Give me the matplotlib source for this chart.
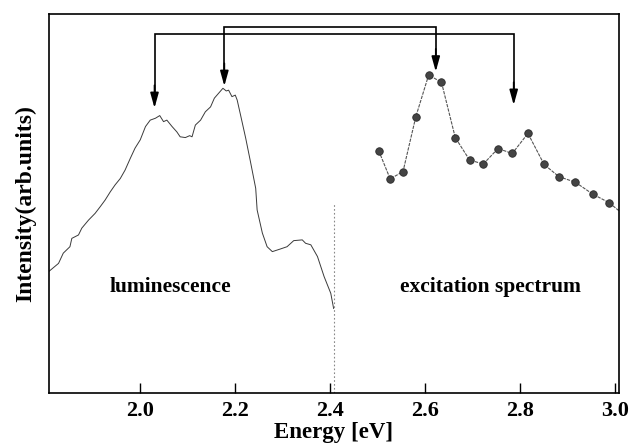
import matplotlib
matplotlib.use("Agg")
import matplotlib.pyplot as plt

plt.rcParams['font.family'] = ['Liberation Serif', 'DejaVu Serif']
plt.rcParams['font.weight'] = 'bold'

# Luminescence spectrum (energy eV, intensity arb.)
lum_E = [1.807, 1.828, 1.838, 1.852, 1.856, 1.870, 1.877, 1.891, 1.905, 1.916,
         1.926, 1.937, 1.947, 1.958, 1.968, 1.979, 1.989, 2.000, 2.011, 2.021,
         2.032, 2.041, 2.049, 2.056, 2.067, 2.077, 2.084, 2.095, 2.104, 2.109,
         2.116, 2.127, 2.137, 2.148, 2.156, 2.165, 2.174, 2.181, 2.186, 2.193,
         2.200, 2.204, 2.211, 2.222, 2.232, 2.243, 2.246, 2.257, 2.267, 2.278,
         2.295, 2.309, 2.323, 2.341, 2.348, 2.359, 2.373, 2.387, 2.401, 2.407]
lum_I = [32.0, 34.2, 36.9, 38.6, 40.8, 41.7, 43.5, 45.6, 47.4, 49.2,
         50.9, 53.1, 54.9, 56.6, 58.8, 61.9, 64.6, 66.8, 70.3, 72.0,
         72.5, 73.2, 71.6, 72.0, 70.3, 68.9, 67.6, 67.4, 67.9, 67.6,
         70.7, 72.0, 74.2, 75.5, 77.8, 79.1, 80.4, 79.7, 79.9, 78.2,
         78.6, 77.3, 73.4, 67.2, 61.0, 54.0, 48.3, 42.2, 38.6, 37.3,
         38.0, 38.6, 40.2, 40.4, 39.5, 39.1, 36.0, 30.7, 26.3, 22.3]

# Excitation spectrum
exc_E = [2.502, 2.526, 2.553, 2.580, 2.607, 2.634, 2.663, 2.693, 2.722,
         2.753, 2.783, 2.816, 2.850, 2.881, 2.916, 2.952, 2.987]
exc_I = [63.9, 56.5, 58.4, 72.9, 83.9, 82.0, 67.4, 61.5, 60.4,
         64.5, 63.2, 68.5, 60.3, 57.1, 55.6, 52.5, 50.2]
exc_tail_E = [2.987, 3.02]
exc_tail_I = [50.2, 46.8]

# Separator (end of luminescence measurement)
sep_E = 2.407
sep_top = 50.1

# Correspondence arrows: (left E, right E, top level, left tip, right tip)
brackets = [
    (2.030, 2.786, 94.7, 75.2, 76.0),
    (2.177, 2.622, 96.6, 81.0, 84.8),
]

xticks = [2.0, 2.2, 2.4, 2.6, 2.8, 3.0]
xticklabels = ['2.0', '2.2', '2.4', '2.6', '2.8', '3.0']

fig = plt.figure(figsize=(6.31, 4.45), dpi=100)
ax = fig.add_axes([0.0777, 0.1169, 0.9805 - 0.0777, 0.9685 - 0.1169])

ax.plot(lum_E, lum_I, color='#3a3a3a', lw=0.7)
ax.plot([sep_E, sep_E], [0, sep_top], color='#888888', lw=0.8, ls=(0, (1.5, 2)))
ax.plot(exc_E + exc_tail_E[1:], exc_I + exc_tail_I[1:], color='#555555', lw=0.8,
        ls=(0, (3, 1)))
ax.plot(exc_E, exc_I, ls='none', marker='o', ms=5.4, mfc='#444444', mec='#2a2a2a', mew=0.6)

for eL, eR, top, tipL, tipR in brackets:
    ax.plot([eL, eL, eR, eR], [tipL + 3, top, top, tipR + 3], color='k', lw=1.2,
            solid_joinstyle='miter')
    for e, tip in ((eL, tipL), (eR, tipR)):
        ax.annotate('', xy=(e, tip), xytext=(e, tip + 6),
                    arrowprops=dict(arrowstyle='-|>,head_length=0.9,head_width=0.25',
                                    color='k', lw=1.2, shrinkA=0, shrinkB=0))

ax.text(2.063, 28, 'luminescence', ha='center', va='center', fontsize=15.5,
        fontweight='bold')
ax.text(2.736, 28, 'excitation spectrum', ha='center', va='center', fontsize=15.5,
        fontweight='bold')

ax.set_xlim(1.808, 3.007)
ax.set_ylim(0, 100)
ax.set_xticks(xticks)
ax.set_xticklabels(xticklabels, fontsize=16, fontweight='bold')
ax.set_yticks([])
ax.tick_params(axis='x', direction='in', length=7, width=1, pad=6)
for s in ax.spines.values():
    s.set_linewidth(1.2)

ax.set_xlabel('Energy [eV]', fontsize=16.5, fontweight='bold', labelpad=0.5)
ax.set_ylabel('Intensity(arb.units)', fontsize=17, fontweight='bold', labelpad=9)

fig.savefig('out.png', dpi=100)
